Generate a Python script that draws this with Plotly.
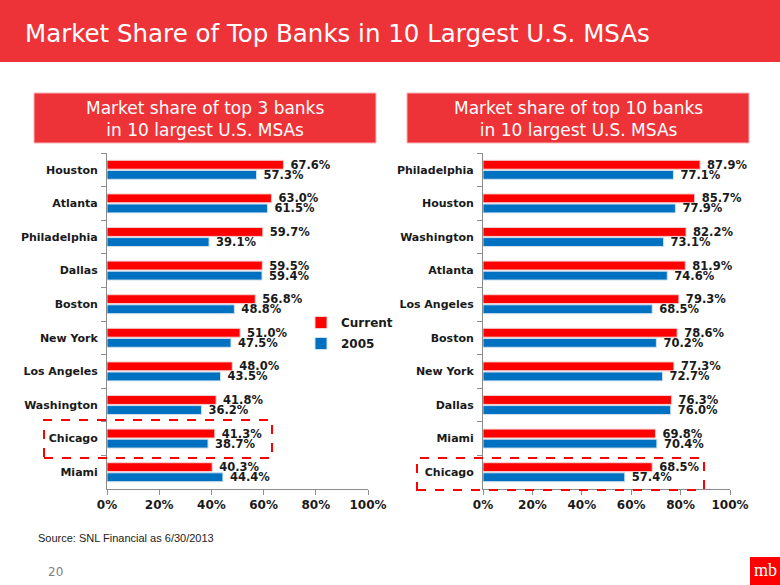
import plotly.graph_objects as go

W, H = 780, 585

# ---- data ----
left_cats = ["Houston", "Atlanta", "Philadelphia", "Dallas", "Boston", "New York",
             "Los Angeles", "Washington", "Chicago", "Miami"]
left_current = [67.6, 63.0, 59.7, 59.5, 56.8, 51.0, 48.0, 41.8, 41.3, 40.3]
left_2005 = [57.3, 61.5, 39.1, 59.4, 48.8, 47.5, 43.5, 36.2, 38.7, 44.4]

right_cats = ["Philadelphia", "Houston", "Washington", "Atlanta", "Los Angeles", "Boston",
              "New York", "Dallas", "Miami", "Chicago"]
right_current = [87.9, 85.7, 82.2, 81.9, 79.3, 78.6, 77.3, 76.3, 69.8, 68.5]
right_2005 = [77.1, 77.9, 73.1, 74.6, 68.5, 70.2, 72.7, 76.0, 70.4, 57.4]

x_ticks = [0, 20, 40, 60, 80, 100]
x_tick_labels = ["0%", "20%", "40%", "60%", "80%", "100%"]
series_names = ["Current", "2005"]

RED = "#FF0000"
BLUE = "#0070C0"
BAND = "#EE3338"
TXT = "#1a1a1a"
FONT = "DejaVu Sans"


def px(x):
    return x / W


def py(y):
    return 1 - y / H


fig = go.Figure()

label_font = dict(family=FONT, size=11.5, color=TXT, weight="bold")

for cats, cur, old, xa, ya, show in [
    (left_cats, left_current, left_2005, "x", "y", True),
    (right_cats, right_current, right_2005, "x2", "y2", False),
]:
    for vals, name, col in [(cur, series_names[0], RED), (old, series_names[1], BLUE)]:
        fig.add_trace(go.Bar(
            y=cats, x=vals, orientation="h", name=name, legendgroup=name,
            marker=dict(color=col, line=dict(color="#f4d0d0" if col == RED else "#cfe0f0", width=1)),
            texttemplate="\u00a0%{x:.1f}%", textposition="outside", textfont=label_font,
            constraintext="none", cliponaxis=False, showlegend=show, xaxis=xa, yaxis=ya,
        ))

axis_common_x = dict(
    range=[0, 100], tickmode="array", tickvals=x_ticks, ticktext=x_tick_labels,
    showgrid=False, zeroline=False, automargin=False,
    showline=True, linecolor="#8c8c8c", linewidth=1, ticks="outside", ticklen=5,
    tickcolor="#8c8c8c", tickfont=dict(family=FONT, size=12, color=TXT, weight="bold"),
)
axis_common_y = dict(
    autorange="reversed", showgrid=False, zeroline=False, showline=True, automargin=False,
    linecolor="#8c8c8c", linewidth=1, ticks="outside", ticklen=5, tickcolor="#8c8c8c",
    tickson="boundaries", ticklabelstandoff=6,
    tickfont=dict(family=FONT, size=11, color=TXT, weight="bold"),
)

ydom = [py(489), py(153)]
fig.update_layout(
    width=W, height=H, margin=dict(l=0, r=0, t=0, b=0, pad=0, autoexpand=False),
    paper_bgcolor="white", plot_bgcolor="white",
    barmode="group", bargap=0.4, bargroupgap=0.12,
    xaxis=dict(domain=[px(107), px(368)], anchor="y", **axis_common_x),
    yaxis=dict(domain=ydom, anchor="x", **axis_common_y),
    xaxis2=dict(domain=[px(483), px(730)], anchor="y2", **axis_common_x),
    yaxis2=dict(domain=ydom, anchor="x2", **axis_common_y),
    legend=dict(x=px(301), y=py(308), xanchor="left", yanchor="top",
                bgcolor="rgba(0,0,0,0)", tracegroupgap=2, itemwidth=30,
                font=dict(family=FONT, size=12, color=TXT, weight="bold")),
    showlegend=True,
)

shapes = [
    # header band
    dict(type="rect", xref="paper", yref="paper", x0=0, x1=1, y0=py(62), y1=1,
         fillcolor=BAND, line=dict(width=0), layer="below"),
    # subtitle boxes
    dict(type="rect", xref="paper", yref="paper", x0=px(34), x1=px(376), y0=py(143), y1=py(93),
         fillcolor=BAND, line=dict(color="#f6b5b7", width=1), layer="below"),
    dict(type="rect", xref="paper", yref="paper", x0=px(407), x1=px(749), y0=py(143), y1=py(93),
         fillcolor=BAND, line=dict(color="#f6b5b7", width=1), layer="below"),
    # dashed highlight boxes
    dict(type="rect", xref="paper", yref="paper", x0=px(44), x1=px(272), y0=py(458), y1=py(420),
         line=dict(color=RED, width=2, dash="dash")),
    dict(type="rect", xref="paper", yref="paper", x0=px(417), x1=px(704), y0=py(490), y1=py(458),
         line=dict(color=RED, width=2, dash="dash")),
    # logo
    dict(type="rect", xref="paper", yref="paper", x0=px(750), x1=1, y0=0, y1=py(557),
         fillcolor=RED, line=dict(width=0)),
]
fig.update_layout(shapes=shapes)

annotations = [
    dict(text="Market Share of Top Banks in 10 Largest U.S. MSAs", x=px(23), y=py(33),
         xanchor="left", yanchor="middle", font=dict(family=FONT, size=24.5, color="white")),
    dict(text="Market share of top 3 banks<br>in 10 largest U.S. MSAs", x=px(205), y=py(119),
         xanchor="center", yanchor="middle", font=dict(family=FONT, size=17, color="white")),
    dict(text="Market share of top 10 banks<br>in 10 largest U.S. MSAs", x=px(578), y=py(119),
         xanchor="center", yanchor="middle", font=dict(family=FONT, size=17, color="white")),
    dict(text="Source: SNL Financial as 6/30/2013", x=px(36), y=py(538), xanchor="left",
         yanchor="middle", font=dict(family="Liberation Sans", size=11, color="#222")),
    dict(text="20", x=px(56), y=py(572), xanchor="center", yanchor="middle",
         font=dict(family=FONT, size=12, color="#808080")),
    dict(text="mb", x=px(765), y=py(570), xanchor="center", yanchor="middle",
         font=dict(family="Liberation Serif", size=18, color="white")),
]
for a in annotations:
    a.update(xref="paper", yref="paper", showarrow=False)
fig.update_layout(annotations=annotations)

fig.write_html(
    "out.html",
    config={"displayModeBar": False},
    post_script=(
        "var s=document.documentElement.style;s.margin='0';s.padding='0';s.overflow='hidden';"
        "var b=document.body.style;b.margin='0';b.padding='0';b.overflow='hidden';"
    ),
)
